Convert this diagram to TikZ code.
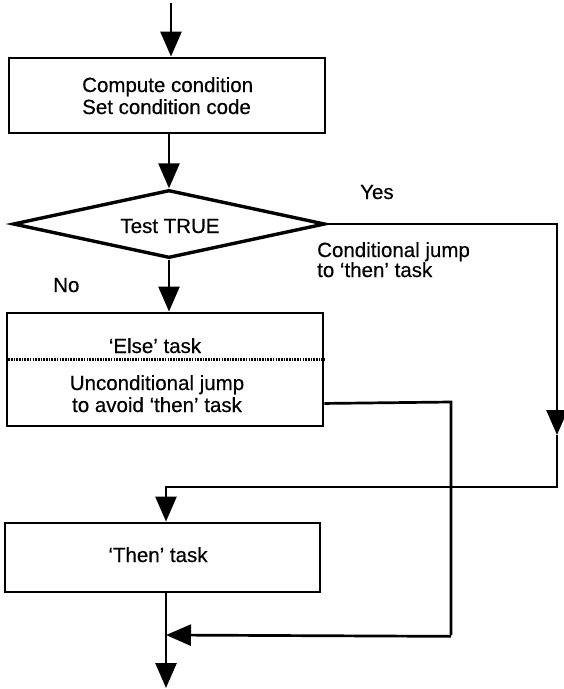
\documentclass[tikz,border=0pt]{standalone}
\usepackage{fontspec}
\setmainfont{Liberation Sans}
\newfontfamily\lblfont{Liberation Sans}[FakeBold=0.4]
\usetikzlibrary{arrows.meta,shapes.geometric,calc}

\tikzset{
  lbl/.style={inner sep=0pt, font=\lblfont\fontsize{20.5}{24}\selectfont},
  taskbox/.style={draw, line width=2.9pt, rectangle, inner sep=0pt},
  testbox/.style={draw, line width=3.4pt, diamond, inner sep=0pt},
  flow/.style={line width=2.7pt, -{Triangle[length=25pt,width=21pt]}},
  wire/.style={line width=2.7pt}
}

\begin{document}
\begin{tikzpicture}[x=1pt, y=-1pt]
  \useasboundingbox (0,0) rectangle (563,689);
  \fill[white] (0,0) rectangle (563,689);

  % task boxes and test
  \node[taskbox, minimum width=316pt, minimum height=75pt]  (compute) at (167,95.5) {};
  \node[testbox, minimum width=312pt, minimum height=68pt]  (test)    at (169,224) {};
  \node[taskbox, minimum width=316pt, minimum height=113pt] (elsebox) at (165,369.5) {};
  \node[taskbox, minimum width=315pt, minimum height=69pt]  (thenbox) at (162.5,557.5) {};

  % divider between the two parts of the else box
  \coordinate (divL) at ($(elsebox.north west)+(0,48)$);
  \coordinate (divR) at ($(elsebox.north east)+(0,48)$);
  \draw[line width=2.4pt, dash pattern=on 1.6pt off 1.1pt] (divL) -- (divR);

  % texts
  \node[lbl, anchor=base west] (t1) at (82,92)  {Compute condition};
  \node[lbl, anchor=base west] (t2) at (82,114) {Set condition code};
  \node[lbl, anchor=base] (ttest) at (170,233) {Test TRUE};
  \node[lbl, anchor=base west] (tyes) at (360,199) {Yes};
  \node[lbl, anchor=base west] (tno)  at (53,292)  {No};
  \node[lbl, anchor=base west] (tc1) at (317,257) {Conditional jump};
  \node[lbl, anchor=base west] (tc2) at (317,277) {to ‘then’ task};
  \node[lbl, anchor=base] (telse) at (155,353) {‘Else’ task};
  \node[lbl, anchor=base] (tu1) at (157,390) {Unconditional jump};
  \node[lbl, anchor=base] (tu2) at (157,412) {to avoid ‘then’ task};
  \node[lbl, anchor=base] (tthen) at (158,562) {‘Then’ task};

  % route points
  \coordinate (start) at (171,3);
  \coordinate (yr)    at (557,224);
  \coordinate (ymid)  at (557,435);
  \coordinate (yb)    at (557,487);
  \coordinate (ex)    at ($(elsebox.south east)+(0,-24)$);
  \coordinate (ec)    at (451,402);
  \coordinate (ed)    at (451,635);
  \coordinate (join)  at (166,635);
  \coordinate (finish) at (166,688);

  % connectors
  \draw[flow] (start) -- (start |- compute.north);
  \draw[flow] (test.north |- compute.south) -- (test.north);
  \draw[flow] (test.south) -- (test.south |- elsebox.north);

  % yes branch: conditional jump to the then task
  \draw[flow] (test.east) -- (yr) -- (ymid);
  \draw[wire] (ymid) -- (yb) -- (yb -| finish);
  \draw[flow] ($(yb -| finish)+(0,-1.35)$) -- (finish |- thenbox.north);

  % unconditional jump round the then task
  \draw[wire] (ex) -- (ec) -- (ed);
  \draw[flow] ($(ed)+(0,1.35)$) -- (join);

  % exit
  \draw[flow] (finish |- thenbox.south) -- (finish);
\end{tikzpicture}
\end{document}
